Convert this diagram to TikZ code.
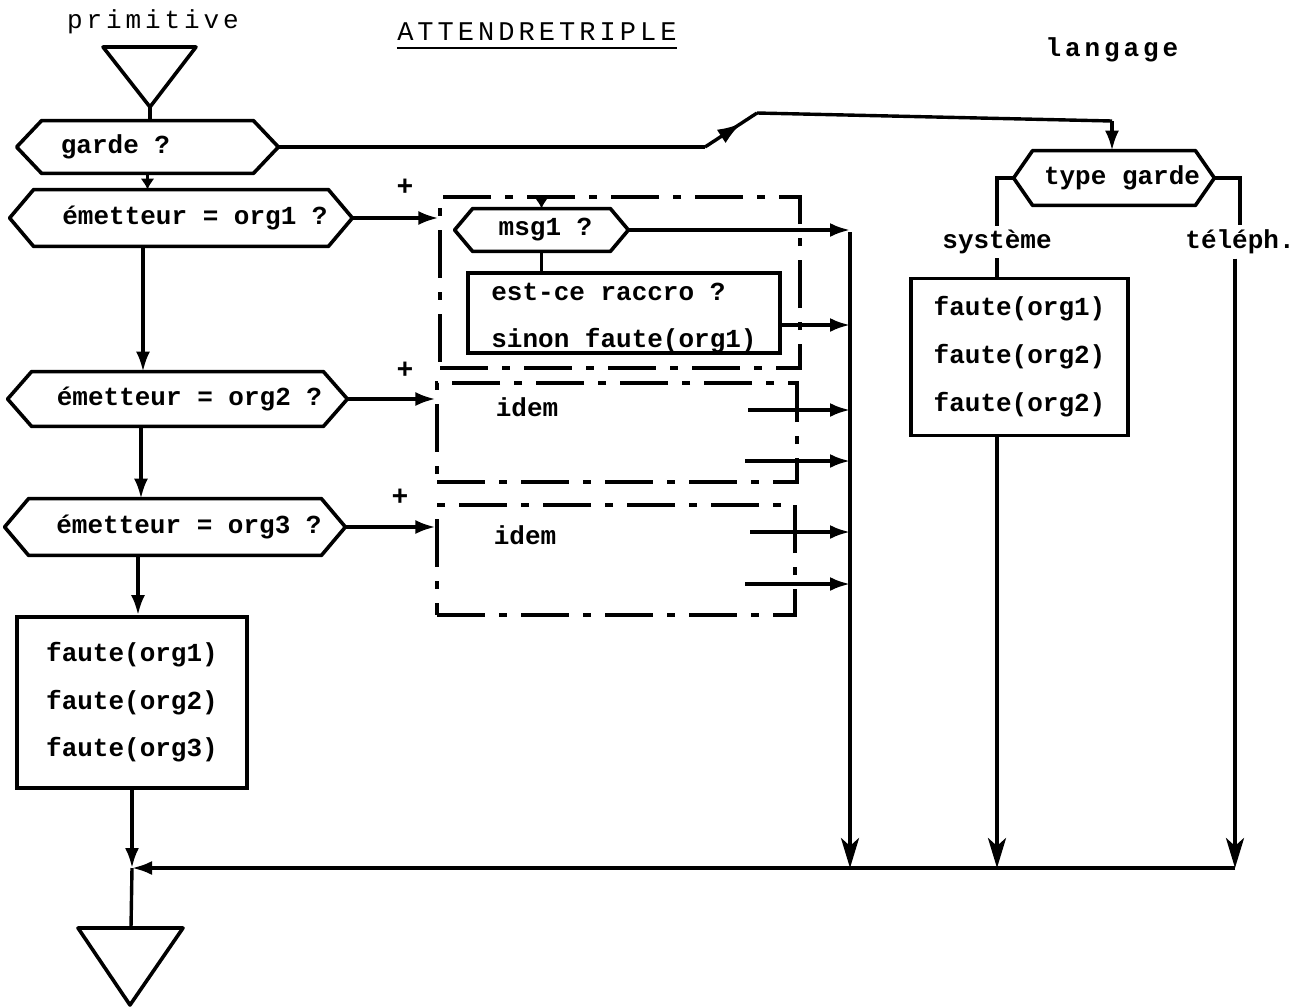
\documentclass[tikz,border=0pt]{standalone}
\usepackage{fontspec}
\setmonofont{Liberation Mono}
\newfontfamily\pmono{Liberation Mono}
\newfontfamily\spmono[LetterSpace=15]{Liberation Mono}
\usetikzlibrary{arrows.meta,calc,decorations.markings}
\newcommand\hexdraw[2]{\draw[line width=1.8pt, line join=round] (#1.west) -- ($(#1.north west)+(#2,0)$) -- ($(#1.north east)+(-#2,0)$) -- (#1.east) -- ($(#1.south east)+(-#2,0)$) -- ($(#1.south west)+(#2,0)$) -- cycle;}
\begin{document}
\begin{tikzpicture}[x=0.5pt,y=-0.5pt,
  font=\pmono\bfseries\fontsize{13}{15}\selectfont,
  hexn/.style={inner sep=0pt},
  line/.style={line width=1.7pt},
  arr/.style={line width=1.7pt,-{Latex[length=10pt,width=7pt]}},
  smallarr/.style={line width=1.7pt,-{Latex[length=5.5pt,width=7pt]}},
  bigarr/.style={line width=1.9pt,-{Stealth[length=15pt,width=9pt,inset=4pt]}},
  dbox/.style={draw,line width=1.6pt,inner sep=0pt,dash pattern=on 24pt off 7pt on 4pt off 7pt},
  tbox/.style={draw,line width=1.9pt,inner sep=0pt,align=left},
  lbl/.style={inner sep=2pt},
  plus/.style={inner sep=1pt,font=\pmono\bfseries\fontsize{14}{16}\selectfont}
]
\fill[white] (0,0) rectangle (1316,1007);
\useasboundingbox (0,0) rectangle (1316,1007);

% headings
\node[lbl,font=\spmono\fontsize{13}{15}\selectfont] (prim) at (153,22) {primitive};
\node[inner sep=0pt,font=\spmono\fontsize{13.5}{15}\selectfont] (title) at (537,32) {ATTENDRETRIPLE};
\draw[line width=1.1pt] ([yshift=-3.5pt]title.base west) -- ([yshift=-3.5pt]title.base east);
\node[lbl,font=\spmono\bfseries\fontsize{13}{15}\selectfont] (lang) at (1112,50) {langage};

% top and bottom triangles
\coordinate (topapex) at (150,107);
\draw[line width=1.8pt,line join=round] (103,47) -- (196,47) -- (topapex) -- cycle;
\coordinate (bottop) at (131,928);
\draw[line width=1.8pt,line join=round] (78,928) -- (183,928) -- (130,1005) -- cycle;

% hexagons
\node[hexn,minimum width=130.5pt,minimum height=26pt] (garde) at (147.5,147) {garde ?\hspace*{32pt}};
\hexdraw{garde}{25}
\node[hexn,minimum width=171pt,minimum height=28pt] (em1) at (181,218) {\hspace*{14pt}émetteur = org1 ?};
\hexdraw{em1}{24}
\node[hexn,minimum width=169.5pt,minimum height=27pt] (em2) at (177.5,399) {\hspace*{12pt}émetteur = org2 ?};
\hexdraw{em2}{24}
\node[hexn,minimum width=170pt,minimum height=28pt] (em3) at (175,527) {\hspace*{14pt}émetteur = org3 ?};
\hexdraw{em3}{24}
\node[hexn,minimum width=86.5pt,minimum height=21pt] (msg1) at (541.5,230) {\hspace*{4pt}msg1 ?};
\hexdraw{msg1}{18}
\node[hexn,minimum width=100pt,minimum height=27pt] (tg) at (1114,178) {\hspace*{8pt}type garde};
\hexdraw{tg}{19}

% boxes
\node[tbox,minimum width=156pt,minimum height=40pt,font=\pmono\bfseries\fontsize{13}{23.5}\selectfont] (inner) at (624,313) {\rule{0pt}{14pt}est-ce raccro ?\\sinon faute(org1)};
\node[tbox,minimum width=115pt,minimum height=85.5pt,font=\pmono\bfseries\fontsize{13}{23.75}\selectfont] (fault) at (132,702.5) {faute(org1)\\faute(org2)\\faute(org3)};
\node[tbox,minimum width=108.5pt,minimum height=78.5pt,font=\pmono\bfseries\fontsize{13}{24}\selectfont] (sys) at (1019.5,357) {faute(org1)\\faute(org2)\\faute(org2)};

% dashed boxes
\node[dbox,minimum width=180pt,minimum height=85.5pt] (b1) at (620,282.5) {};
\node[dbox,minimum width=180pt,minimum height=49.5pt] (b2) at (617,432.5) {};
\node[dbox,minimum width=179pt,minimum height=55pt] (b3) at (616,560) {};
\node[lbl] (idem2) at (527,407) {idem};
\node[lbl] (idem3) at (525,535) {idem};

% plus signs
\node[plus] (p1) at (405,187) {+};
\node[plus] (p2) at (405,370) {+};
\node[plus] (p3) at (400,497) {+};

% branch labels
\node[lbl] (sysl) at (997,242) {système};
\node[lbl] (tel) at (1240,242) {téléph.};

% coordinates
\coordinate (ctop) at (850,232);
\coordinate (J0) at (132,868);
\coordinate (J1) at (850,868);
\coordinate (J2) at (997,868);
\coordinate (J3) at (1235,868);
\coordinate (c1) at (143,0);
\coordinate (c2) at (141,0);
\coordinate (c3) at (138,0);
\coordinate (k1) at (705,147);
\coordinate (k2) at (757,113);
\coordinate (k3) at (1112,121);
\coordinate (s21) at (748,410);
\coordinate (s22) at (745,461);
\coordinate (s31) at (750,532);
\coordinate (s32) at (745,584);

% left column
\draw[line] (topapex) -- (topapex |- garde.north);
\draw[smallarr] (garde.south) -- (garde.south |- em1.north);
\draw[arr] (em1.south -| c1) -- (em2.north -| c1);
\draw[arr] (em2.south -| c2) -- (em3.north -| c2);
\draw[arr] (em3.south -| c3) -- (fault.north -| c3);
\draw[arr] (fault.south -| J0) -- (J0);
\draw[line] (J0) -- (bottop);

% to dashed boxes
\draw[arr] (em1.east) -- (em1.east -| b1.west);
\draw[arr] (em2.east) -- (em2.east -| b2.west);
\draw[arr] (em3.east) -- (em3.east -| b3.west);

% inside box 1
\draw[smallarr] (msg1.north |- b1.north) -- (msg1.north);
\draw[line] (msg1.south) -- (msg1.south |- inner.north);

% collector
\draw[arr] (msg1.east) -- (msg1.east -| ctop);
\draw[arr] ([yshift=-6pt]inner.east) -- ([yshift=-6pt]inner.east -| ctop);
\draw[arr] (s21) -- (s21 -| ctop);
\draw[arr] (s22) -- (s22 -| ctop);
\draw[arr] (s31) -- (s31 -| ctop);
\draw[arr] (s32) -- (s32 -| ctop);
\draw[bigarr] (ctop) -- (J1);

% garde to type garde
\draw[line] (garde.east) -- (k1);
\draw[line,postaction={decorate},decoration={markings,mark=at position 0.7 with {\arrow{Latex[length=12pt,width=8pt]}}}] (k1) -- (k2);
\draw[line] (k2) -- (k3);
\draw[arr] (k3) -- (k3 |- tg.north);

% type garde branches
\draw[line] (tg.west) -| (sysl.north);
\draw[line] (sysl.south) -- (sysl.south |- sys.north);
\draw[line] (tg.east) -| (tel.north);
\draw[bigarr] (sysl |- sys.south) -- (J2);
\draw[bigarr] (tel.south -| J3) -- (J3);

% bottom return line
\draw[arr] (J3) -- (J0);
\end{tikzpicture}
\end{document}
